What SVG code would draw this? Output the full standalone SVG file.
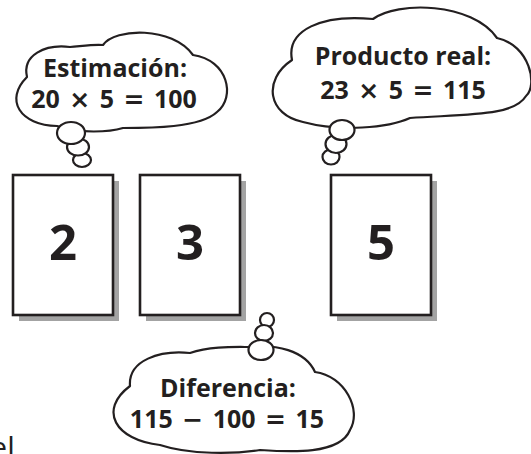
<svg xmlns="http://www.w3.org/2000/svg" width="531" height="454" viewBox="0 0 531 454">
<style>
.card{fill:#fff;stroke:#231f20;stroke-width:2.6}
.shadow{fill:#a3a3a3}
.cloud{fill:#fff;stroke:#231f20;stroke-width:2.2;stroke-linejoin:round}
.bub{fill:#fff;stroke:#231f20;stroke-width:2.2}
.t{font-family:"Open Sans","Noto Sans","DejaVu Sans",sans-serif;font-weight:bold;fill:#231f20;text-anchor:middle}
.lbl{font-size:25px}
.eq{word-spacing:3px}
.op{font-family:"DejaVu Sans",sans-serif;font-weight:bold}
.dig{font-size:49px}
</style>
<rect width="531" height="454" fill="#fff"/>
<g id="card-2">
<rect class="shadow" x="19" y="181" width="100" height="140"/>
<rect class="card" x="13" y="175" width="100" height="140"/>
<text class="t dig" x="63" y="260">2</text>
</g>
<g id="card-3">
<rect class="shadow" x="146" y="181" width="100" height="140"/>
<rect class="card" x="140" y="175" width="100" height="140"/>
<text class="t dig" x="190" y="260">3</text>
</g>
<g id="card-5">
<rect class="shadow" x="337" y="181" width="100" height="140"/>
<rect class="card" x="331" y="175" width="100" height="140"/>
<text class="t dig" x="381" y="260">5</text>
</g>
<g id="cloud-estimacion">
<path class="cloud" d="M27,77 C22,55 45,44 70,47 C82,46 95,44 103,45 C115,28 172,26 193,55 C228,60 236,97 217,112 C200,128 150,128 123,128 C110,132 80,134 57,126 C20,125 4,100 27,77 Z"/>
<text class="t lbl" x="115" y="77">Estimación:</text>
<text class="t lbl eq" x="114" y="108">20 <tspan class="op">×</tspan> 5 <tspan class="op">=</tspan> 100</text>
</g>
<g id="cloud-producto">
<path class="cloud" d="M292,60 C286,30 322,14 373,19 C397,1 472,2 497,38 C530,45 538,86 526,96 C514,116 470,114 410,118 C388,128 340,132 303,122 C268,115 262,80 292,60 Z"/>
<text class="t lbl" x="403" y="65">Producto real:</text>
<text class="t lbl eq" x="403" y="99">23 <tspan class="op">×</tspan> 5 <tspan class="op">=</tspan> 115</text>
</g>
<g id="cloud-diferencia">
<path class="cloud" d="M130,386 C128,360 160,350 190,353 C210,346 235,347 250,347 C275,344 305,350 315,372 C345,376 362,410 350,430 C340,455 290,452 260,450 C235,454 190,455 160,445 C115,440 98,410 130,386 Z"/>
<text class="t lbl" x="228" y="397">Diferencia:</text>
<text class="t lbl eq" x="227" y="428">115 <tspan class="op">−</tspan> 100 <tspan class="op">=</tspan> 15</text>
</g>
<g id="connectors">
<ellipse class="bub" cx="82" cy="160" rx="9" ry="7"/>
<ellipse class="bub" cx="78" cy="147" rx="11" ry="8.5"/>
<ellipse class="bub" cx="71" cy="133" rx="14" ry="11"/>
<ellipse class="bub" cx="331" cy="157" rx="8.5" ry="7.5"/>
<ellipse class="bub" cx="336" cy="144" rx="10.5" ry="9"/>
<ellipse class="bub" cx="342" cy="130" rx="12.5" ry="10"/>
<ellipse class="bub" cx="267" cy="320" rx="7" ry="7"/>
<ellipse class="bub" cx="264" cy="333" rx="9" ry="8"/>
<ellipse class="bub" cx="261" cy="350" rx="12.5" ry="10"/>
</g>
<text x="-9.7" y="458" font-family="'Open Sans','Noto Sans',sans-serif" font-size="30" fill="#231f20">el</text>
</svg>
